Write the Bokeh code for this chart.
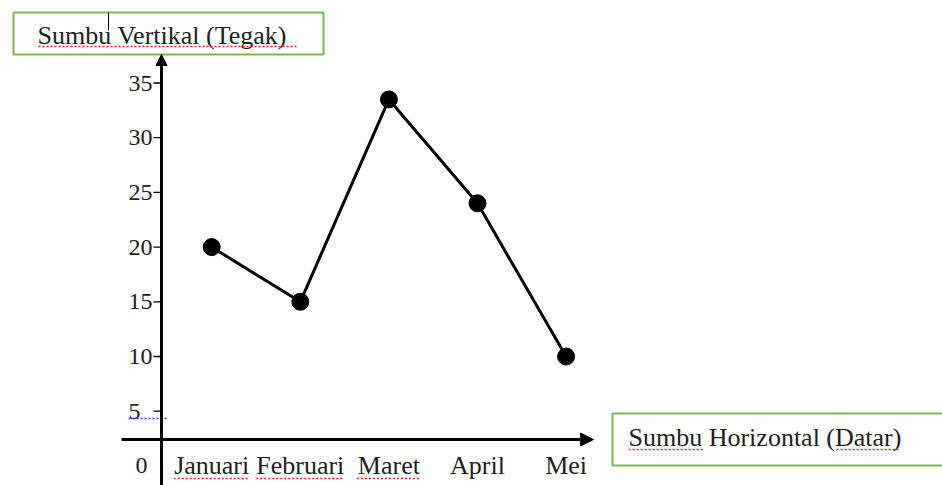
from bokeh.plotting import figure
from bokeh.models import Range1d, Arrow, NormalHead
from bokeh.core.properties import value
from bokeh.embed import file_html
from bokeh.resources import INLINE

# ---- data ----
months = ["Januari", "Februari", "Maret", "April", "Mei"]
values = [20, 15, 33.5, 24, 10]
y_ticks = [5, 10, 15, 20, 25, 30, 35]
y_tick_labels = ["5", "10", "15", "20", "25", "30", "35"]
origin_label = "0"
y_title = "Sumbu Vertikal (Tegak)"
x_title = "Sumbu Horizontal (Datar)"

# ---- layout ----
W, H = 942, 485
X0, DX = 211.2, 88.6     # page x of first month, pixels per month step
Y0, DY = 465.4, 10.94    # page y of value 0, pixels per unit


def px(x):
    return (x - X0) / DX


def py(y):
    return (Y0 - y) / DY


FONT = value("Liberation Serif")
INK = "#1e1e1e"
GREEN = "#7AB55A"
RED = "#E02828"
BLUE = "#3040E0"

p = figure(width=W, height=H, output_backend="svg", toolbar_location=None, tools="",
           x_range=Range1d(px(0), px(W)), y_range=Range1d(py(H), py(0)),
           x_axis_location=None, y_axis_location=None, min_border=0,
           outline_line_color=None, background_fill_color="white",
           border_fill_color="white")
p.grid.visible = False

# axes with arrow heads
p.add_layout(Arrow(end=NormalHead(size=11, fill_color="black", line_color="black", line_width=1),
                   x_start=px(161), y_start=py(495), x_end=px(161), y_end=py(54),
                   line_width=3, line_color="black"))
p.add_layout(Arrow(end=NormalHead(size=13, fill_color="black", line_color="black", line_width=1),
                   x_start=px(121), y_start=py(439), x_end=px(593), y_end=py(439),
                   line_width=3, line_color="black"))

# y tick marks and labels
n = len(y_ticks)
p.segment(x0=[px(153)] * n, y0=y_ticks, x1=[px(161)] * n, y1=y_ticks,
          line_color="black", line_width=1.3)
p.text(x=[px(128)] * n, y=y_ticks, text=y_tick_labels, text_align="left",
       text_baseline="middle", text_font=FONT, text_font_size="24px", text_color=INK)
p.text(x=[px(135)], y=[0], text=[origin_label], text_align="left",
       text_baseline="middle", text_font=FONT, text_font_size="24px", text_color=INK)

# month labels
idx = list(range(len(months)))
p.text(x=idx, y=[py(465)] * len(months), text=months, text_align="center",
       text_baseline="middle", text_font=FONT, text_font_size="26px", text_color=INK)

# data line and points
p.line(x=idx, y=values, line_color="black", line_width=3)
p.scatter(x=idx, y=values, size=17, marker="circle", fill_color="black", line_color="black")

# title boxes
p.quad(left=px(13), right=px(323), top=py(12), bottom=py(54),
       fill_color=None, line_color=GREEN, line_width=2)
p.text(x=[px(37)], y=[py(35)], text=[y_title], text_align="left",
       text_baseline="middle", text_font=FONT, text_font_size="26px", text_color=INK)
p.quad(left=px(612), right=px(990), top=py(413), bottom=py(465),
       fill_color=None, line_color=GREEN, line_width=2)
p.text(x=[px(628)], y=[py(437)], text=[x_title], text_align="left",
       text_baseline="middle", text_font=FONT, text_font_size="26px", text_color=INK)

# text cursor
p.segment(x0=[px(108)], y0=[py(12)], x1=[px(108)], y1=[py(30)], line_color="black", line_width=1)

# spell-check underlines
p.multi_line(xs=[[px(38), px(296)], [px(628), px(703)], [px(836), px(899)]],
             ys=[[py(46), py(46)], [py(449), py(449)], [py(449), py(449)]],
             line_color=RED, line_width=1.5, line_dash="2 2")
half_w = [38, 44, 32]
p.multi_line(xs=[[i - w / DX, i + w / DX] for i, w in zip(idx[:3], half_w)],
             ys=[[py(478), py(478)]] * 3,
             line_color=RED, line_width=1.5, line_dash="2 2")
p.multi_line(xs=[[px(128), px(166)]], ys=[[py(418), py(418)]],
             line_color=BLUE, line_width=1.5, line_dash="2 2")

open("out.html", "w").write(file_html(p, INLINE))
